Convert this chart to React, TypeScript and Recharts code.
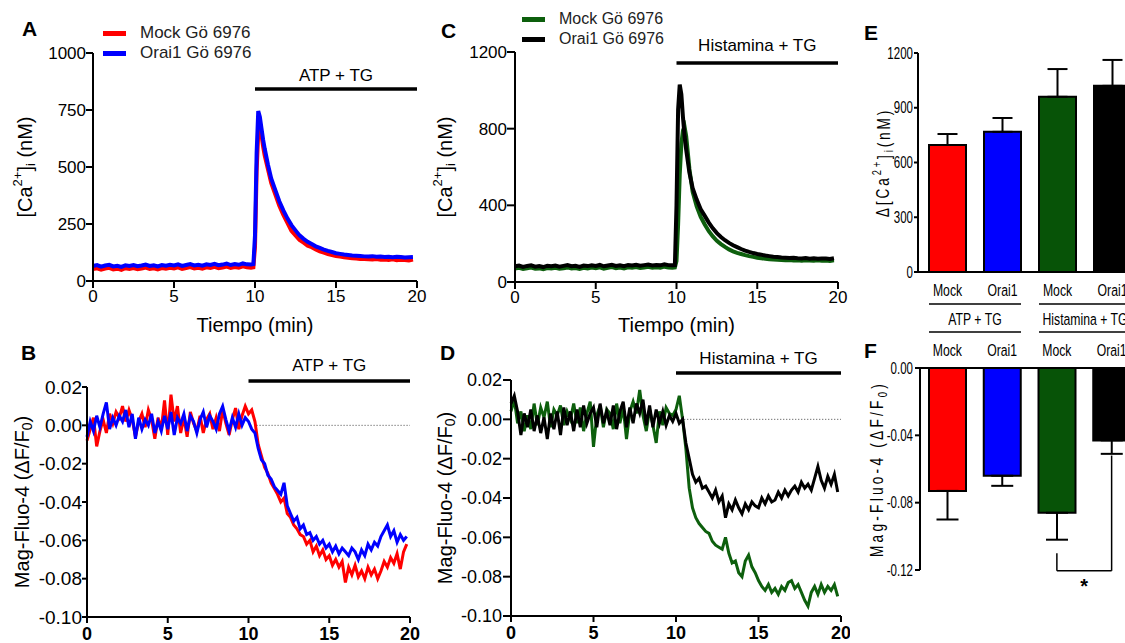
import React from "react";
import {
  LineChart,
  Line,
  XAxis,
  YAxis,
  ReferenceLine,
  Legend,
  BarChart,
  Bar,
  Cell,
  ErrorBar,
} from "recharts";

const SANS = "'Liberation Sans', Arial, sans-serif";

const RED = "#ff0000";
const BLUE = "#0000ff";
const GREEN = "#0d5f0d";
const GREEN_BAR = "#075307";
const BLACK = "#000000";

// [Ca2+]i traces (nM), Fura-2
const tCa = [
  0, 0.25, 0.5, 0.75, 1, 1.25, 1.5, 1.75, 2, 2.25, 2.5, 2.75, 3, 3.25, 3.5, 3.75, 4, 4.25, 4.5, 4.75,
  5, 5.25, 5.5, 5.75, 6, 6.25, 6.5, 6.75, 7, 7.25, 7.5, 7.75, 8, 8.25, 8.5, 8.75, 9, 9.25, 9.5, 9.75,
  9.9, 10, 10.1, 10.2, 10.3, 10.4, 10.5, 10.6, 10.8, 11,
  11.25, 11.5, 11.75, 12, 12.25, 12.5, 12.75, 13, 13.25, 13.5, 13.75, 14, 14.25, 14.5, 14.75, 15, 15.25, 15.5,
  15.75, 16, 16.25, 16.5, 16.75, 17, 17.25, 17.5, 17.75, 18, 18.25, 18.5, 18.75, 19, 19.25, 19.5, 19.75,
];
const caMockAtp = [
  52, 56, 50, 55, 58, 51, 54, 49, 56, 53, 57, 52, 55, 59, 53, 56, 51, 57, 54, 58,
  55, 60, 53, 57, 61, 55, 58, 54, 60, 57, 62, 56, 59, 63, 57, 61, 58, 64, 60, 58,
  60, 150, 480, 650, 680, 640, 590, 550, 490, 430,
  380, 330, 290, 255, 220, 200, 180, 168, 155, 148, 138, 130, 124, 118, 114, 110, 107, 104,
  102, 100, 99, 97, 96, 95, 94, 96, 93, 94, 92, 95, 91, 93, 92, 90, 94,
];
const caOraiAtp = [
  66, 70, 63, 68, 71, 64, 67, 62, 69, 66, 70, 65, 68, 72, 66, 69, 64, 70, 67, 71,
  68, 73, 66, 70, 74, 68, 71, 67, 73, 70, 75, 69, 72, 76, 70, 74, 71, 77, 73, 72,
  74, 200, 560, 745, 720, 670, 620, 580, 510, 450,
  400, 350, 310, 275, 245, 222, 200, 185, 172, 162, 152, 145, 138, 132, 127, 122, 119, 116,
  114, 112, 111, 110, 108, 107, 109, 106, 107, 105, 106, 104, 106, 105, 103, 104, 105,
];
const caMockHis = [
  70, 74, 68, 72, 75, 69, 71, 67, 73, 70, 74, 69, 72, 76, 70, 73, 68, 74, 71, 75,
  72, 77, 70, 74, 78, 72, 75, 71, 77, 74, 78, 73, 76, 79, 74, 77, 75, 80, 76, 75,
  76, 110, 300, 560, 720, 790, 810, 760, 590, 470,
  395, 340, 300, 265, 238, 215, 198, 183, 170, 160, 152, 146, 140, 135, 131, 127, 124, 121,
  119, 117, 116, 115, 114, 115, 112, 113, 111, 114, 112, 111, 113, 111, 112, 110, 113,
];
const caOraiHis = [
  82, 86, 79, 84, 87, 80, 83, 78, 85, 82, 86, 80, 84, 88, 82, 85, 79, 86, 83, 87,
  84, 89, 82, 86, 90, 84, 87, 83, 89, 86, 90, 85, 88, 91, 86, 89, 87, 92, 88, 87,
  88, 400, 900, 1030, 980, 860, 760, 690, 570, 490,
  430, 380, 345, 310, 280, 255, 235, 218, 204, 192, 182, 172, 164, 157, 151, 146, 142, 138,
  135, 132, 130, 128, 127, 125, 126, 124, 123, 125, 122, 124, 121, 123, 122, 120, 124,
];

// Mag-Fluo-4 traces (dF/F0)
const tMag = [
  0, 0.2, 0.4, 0.6, 0.8, 1, 1.2, 1.4, 1.6, 1.8, 2, 2.2, 2.4, 2.6, 2.8, 3, 3.2, 3.4, 3.6, 3.8,
  4, 4.2, 4.4, 4.6, 4.8, 5, 5.2, 5.4, 5.6, 5.8, 6, 6.2, 6.4, 6.6, 6.8, 7, 7.2, 7.4, 7.6, 7.8,
  8, 8.2, 8.4, 8.6, 8.8, 9, 9.2, 9.4, 9.6, 9.8, 10, 10.2, 10.4, 10.6, 10.8, 11, 11.2, 11.4, 11.6, 11.8,
  12, 12.2, 12.4, 12.6, 12.8, 13, 13.2, 13.4, 13.6, 13.8, 14, 14.2, 14.4, 14.6, 14.8, 15, 15.2, 15.4, 15.6, 15.8,
  16, 16.2, 16.4, 16.6, 16.8, 17, 17.2, 17.4, 17.6, 17.8, 18, 18.2, 18.4, 18.6, 18.8, 19, 19.2, 19.4, 19.6, 19.8,
];
const magMockAtp = [
  -0.008, -0.002, 0.004, -0.011, -0.003, 0.003, -0.004, 0.006, 0.001, 0.007,
  0.004, 0.01, 0.002, 0.008, 0.003, -0.006, 0.002, 0.006, -0.001, 0.008,
  0.003, -0.007, 0.004, -0.002, 0.013, -0.005, 0.016, 0.002, 0.01, -0.004,
  0.004, -0.006, 0.007, 0.001, -0.003, 0.005, -0.004, 0.003, 0.006, -0.002,
  0.004, -0.003, 0.008, 0.001, -0.005, 0.003, 0.009, -0.002, 0.005, 0.01,
  0.006, 0.008, 0.002, -0.01, -0.016, -0.022, -0.025, -0.03, -0.033, -0.036,
  -0.04, -0.038, -0.046, -0.048, -0.052, -0.054, -0.057, -0.058, -0.062, -0.06,
  -0.066, -0.063, -0.068, -0.065, -0.07, -0.068, -0.073, -0.07, -0.074, -0.071,
  -0.082, -0.074, -0.078, -0.073, -0.079, -0.076, -0.08, -0.074, -0.078, -0.075,
  -0.08, -0.076, -0.071, -0.074, -0.069, -0.072, -0.067, -0.075, -0.066, -0.062,
];
const magOraiAtp = [
  -0.006, 0.002, -0.003, 0.005, -0.001, 0.006, 0.012, -0.002, 0.004, 0.0,
  0.005, 0.002, 0.008, -0.001, 0.006, -0.007, 0.004, -0.002, 0.003, 0.0,
  0.006, -0.004, 0.002, -0.003, 0.005, -0.002, 0.007, -0.005, 0.004, 0.001,
  0.006, -0.003, 0.005, 0.002, -0.004, 0.003, 0.007, -0.001, 0.005, 0.002,
  -0.002, 0.006, 0.01, 0.003, -0.003, 0.004, -0.001, 0.006, 0.0, 0.004,
  0.002, -0.002, -0.004, -0.012, -0.018, -0.02, -0.026, -0.028, -0.032, -0.034,
  -0.036, -0.03, -0.042, -0.046, -0.05, -0.048, -0.054, -0.052, -0.057, -0.056,
  -0.06, -0.058, -0.062, -0.06, -0.064, -0.062, -0.066, -0.063, -0.067, -0.064,
  -0.066, -0.068, -0.064, -0.066, -0.07, -0.065, -0.068, -0.062, -0.065, -0.061,
  -0.063, -0.058, -0.055, -0.052, -0.058, -0.055, -0.061, -0.057, -0.06, -0.058,
];
const magMockHis = [
  0.004, 0.01, -0.002, 0.004, -0.006, 0.002, -0.005, 0.008, -0.003, 0.006,
  0.001, 0.009, -0.004, 0.005, 0.002, 0.007, -0.003, 0.004, 0.0, 0.008,
  -0.002, 0.006, -0.006, 0.003, 0.009, -0.014, 0.002, 0.007, -0.004, 0.005,
  0.003, -0.005, 0.008, -0.002, 0.006, -0.01, 0.004, 0.009, 0.003, 0.015,
  0.002, -0.006, 0.005, -0.003, -0.012, 0.004, -0.003, 0.006, 0.003, 0.002,
  0.005, 0.012, 0.0, -0.015, -0.035, -0.045, -0.05, -0.053, -0.055, -0.057,
  -0.058, -0.062, -0.064, -0.065, -0.066, -0.06, -0.068, -0.073, -0.072, -0.078,
  -0.08, -0.072, -0.069, -0.075, -0.078, -0.082, -0.085, -0.087, -0.084, -0.088,
  -0.086, -0.089, -0.085, -0.087, -0.083, -0.082, -0.086, -0.084, -0.088, -0.092,
  -0.095, -0.088, -0.085, -0.089, -0.084, -0.088, -0.085, -0.087, -0.084, -0.09,
];
const magOraiHis = [
  0.008, 0.012, 0.004, -0.008, 0.003, -0.004, 0.005, -0.006, 0.002, -0.007,
  0.001, -0.01, 0.003, -0.005, 0.004, -0.008, 0.006, -0.003, 0.004, -0.006,
  0.005, -0.004, 0.007, -0.002, 0.003, 0.006, -0.004, 0.008, -0.002, 0.004,
  -0.003, 0.007, -0.005, 0.004, 0.009, -0.004, 0.006, -0.002, 0.008, 0.003,
  0.01, -0.003, 0.007, -0.004, 0.005, -0.002, 0.004, -0.003, 0.002, -0.001,
  0.003, -0.002, 0.0, -0.012, -0.02, -0.028, -0.032, -0.03, -0.035, -0.034,
  -0.037, -0.04, -0.036, -0.042, -0.039, -0.05, -0.043, -0.046, -0.041, -0.045,
  -0.048, -0.043, -0.046, -0.042, -0.044, -0.045, -0.04, -0.043, -0.039, -0.042,
  -0.041, -0.037, -0.04, -0.036, -0.039, -0.036, -0.034, -0.037, -0.032, -0.035,
  -0.033, -0.036, -0.03, -0.024, -0.031, -0.035, -0.029, -0.033, -0.028, -0.037,
];

// summary bars
const barKeys = ["atpMock", "atpOrai", "hisMock", "hisOrai"];
const barNames = ["Mock", "Orai1", "Mock", "Orai1"];
const barGroups = ["ATP + TG", "ATP + TG", "Histamina + TG", "Histamina + TG"];
const barColors = [RED, BLUE, GREEN_BAR, BLACK];
const caPeak = [696, 768, 960, 1020];
const caPeakErr = [60, 76, 152, 142];
const magDrop = [-0.073, -0.064, -0.086, -0.043];
const magDropErr = [0.017, 0.006, 0.016, 0.008];

const caTicksAtp = [0, 250, 500, 750, 1000];
const caTicksHis = [0, 400, 800, 1200];
const magTicks = [-0.1, -0.08, -0.06, -0.04, -0.02, 0, 0.02];
const timeTicks = [0, 5, 10, 15, 20];
const peakTicks = [0, 300, 600, 900, 1200];
const dropTicks = [-0.12, -0.08, -0.04, 0];

const atpData = tCa.map((t, i) => ({ t, mock: caMockAtp[i], orai: caOraiAtp[i] }));
const hisData = tCa.map((t, i) => ({ t, mock: caMockHis[i], orai: caOraiHis[i] }));
const magAtpData = tMag.map((t, i) => ({ t, mock: magMockAtp[i], orai: magOraiAtp[i] }));
const magHisData = tMag.map((t, i) => ({ t, mock: magMockHis[i], orai: magOraiHis[i] }));
const peakData = barKeys.map((k, i) => ({ key: k, v: caPeak[i], err: [0, caPeakErr[i]] }));
const dropData = barKeys.map((k, i) => ({ key: k, v: magDrop[i], err: [magDropErr[i], 0] }));

const axisStroke = { stroke: "#000", strokeWidth: 2 };
const NARROW_X = 0.72;

// rotated axis title, optionally squeezed along the reading direction
function Title({ viewBox, cx, size, sx = 1, spacing = 0, children }: any) {
  const vb = viewBox || { x: 0, y: 0, width: 0, height: 0 };
  const x = (vb.x || 0) + cx;
  const y = (vb.y || 0) + (vb.height || 0) / 2;
  return (
    <text
      x={0}
      y={0}
      transform={`translate(${x} ${y}) rotate(-90) scale(${sx} 1)`}
      textAnchor="middle"
      dominantBaseline="central"
      fontSize={size}
      fontFamily={SANS}
      letterSpacing={spacing}
      fill="#000"
    >
      {children}
    </text>
  );
}

// condensed text for the bar panels
function Narrow({ x, y, anchor = "middle", size = 17, children }: any) {
  return (
    <text
      x={0}
      y={0}
      transform={`translate(${x} ${y}) scale(${NARROW_X} 1)`}
      textAnchor={anchor}
      dominantBaseline="central"
      fontSize={size}
      fontFamily={SANS}
      fill="#000"
    >
      {children}
    </text>
  );
}

const caTitle = (p: any) => (
  <Title {...p} cx={25} size={20}>
    [Ca<tspan dy={-8} fontSize={13}>2+</tspan>
    <tspan dy={8}>]</tspan>
    <tspan dy={5} fontSize={13}>i</tspan>
    <tspan dy={-5}> (nM)</tspan>
  </Title>
);

const magTitle = (cx: number, size: number, sx = 1, spacing = 0) => (p: any) => (
  <Title {...p} cx={cx} size={size} sx={sx} spacing={spacing}>
    Mag-Fluo-4 (ΔF/F<tspan dy={5} fontSize={size * 0.7}>0</tspan>
    <tspan dy={-5}>)</tspan>
  </Title>
);

function TraceLegend({ items, size }: { items: { name: string; color: string }[]; size: number }) {
  return (
    <div style={{ fontFamily: SANS, fontSize: size, color: "#222", lineHeight: "20px" }}>
      {items.map((it) => (
        <div key={it.name} style={{ display: "flex", alignItems: "center", height: 20 }}>
          <span style={{ display: "inline-block", width: 23, height: 5, background: it.color, marginRight: 14 }} />
          {it.name}
        </div>
      ))}
    </div>
  );
}

const stim = (y: number, text: string, offset: number) => (
  <ReferenceLine
    segment={[{ x: 10, y }, { x: 20, y }]}
    stroke="#000"
    strokeWidth={3.5}
    ifOverflow="visible"
    label={{ value: text, position: "top", offset, fontSize: 17, fill: "#000", fontFamily: SANS }}
  />
);

const zeroLine = (
  <ReferenceLine
    segment={[{ x: 10.5, y: 0 }, { x: 20, y: 0 }]}
    stroke="#444"
    strokeWidth={1}
    strokeDasharray="1 2"
  />
);

const E_BAND = 55;
const BAR_W = 37;

function PeakTick({ x, y, index }: any) {
  return (
    <g>
      <Narrow x={x} y={y + 18}>
        {barNames[index]}
      </Narrow>
      {index % 2 === 1 && (
        <g>
          <line x1={x - E_BAND - BAR_W / 2} x2={x + BAR_W / 2} y1={y + 32} y2={y + 32} stroke="#000" strokeWidth={1.5} />
          <Narrow x={x - E_BAND / 2} y={y + 47}>
            {barGroups[index]}
          </Narrow>
          <line x1={x - E_BAND - BAR_W / 2} x2={x + BAR_W / 2} y1={y + 60} y2={y + 60} stroke="#000" strokeWidth={1.5} />
        </g>
      )}
    </g>
  );
}

function DropTick({ x, y, index }: any) {
  return (
    <Narrow x={x} y={y - 18}>
      {barNames[index]}
    </Narrow>
  );
}

const letterStyle: React.CSSProperties = {
  position: "absolute",
  fontFamily: SANS,
  fontWeight: 700,
  fontSize: 21,
  lineHeight: "21px",
};

export default function App() {
  const bracketTop = magDrop[3] - magDropErr[3] - 0.001;
  const bracketBottom = -0.1205;
  const bracketStart = magDrop[2] - magDropErr[2] - 0.008;
  return (
    <div
      style={{
        position: "fixed",
        left: 0,
        top: 0,
        width: 1125,
        height: 643,
        overflow: "hidden",
        background: "#fff",
      }}
    >
      <div style={{ ...letterStyle, left: 22, top: 18 }}>A</div>
      <div style={{ ...letterStyle, left: 21, top: 342 }}>B</div>
      <div style={{ ...letterStyle, left: 441, top: 20 }}>C</div>
      <div style={{ ...letterStyle, left: 440, top: 342 }}>D</div>
      <div style={{ ...letterStyle, left: 864, top: 22 }}>E</div>
      <div style={{ ...letterStyle, left: 864, top: 340 }}>F</div>

      {/* A */}
      <div style={{ position: "absolute", left: 0, top: 0 }}>
        <LineChart width={430} height={340} data={atpData} margin={{ top: 53, right: 13, left: 0, bottom: 0 }}>
          <XAxis
            dataKey="t"
            type="number"
            domain={[0, 20]}
            ticks={timeTicks}
            axisLine={axisStroke}
            tickLine={axisStroke}
            tickSize={7}
            tickMargin={2}
            height={59}
            tick={{ fontSize: 17, fill: "#000", fontFamily: SANS }}
            label={{ value: "Tiempo (min)", position: "insideBottom", offset: 8, fontSize: 20, fill: "#000", fontFamily: SANS }}
          />
          <YAxis
            type="number"
            domain={[0, 1000]}
            ticks={caTicksAtp}
            axisLine={axisStroke}
            tickLine={axisStroke}
            tickSize={7}
            tickMargin={0}
            width={93}
            tick={{ fontSize: 17, fill: "#000", fontFamily: SANS }}
            label={caTitle}
          />
          {stim(842, "ATP + TG", 8)}
          <Line dataKey="mock" stroke={RED} strokeWidth={4} dot={false} isAnimationActive={false} />
          <Line dataKey="orai" stroke={BLUE} strokeWidth={4} dot={false} isAnimationActive={false} />
          <Legend
            layout="horizontal"
            verticalAlign="middle"
            align="center"
            wrapperStyle={{ top: 23, left: 103, width: 220 }}
            content={() => (
              <TraceLegend size={17} items={[{ name: "Mock Gö 6976", color: RED }, { name: "Orai1 Gö 6976", color: BLUE }]} />
            )}
          />
        </LineChart>
      </div>

      {/* C */}
      <div style={{ position: "absolute", left: 420, top: 0 }}>
        <LineChart width={430} height={340} data={hisData} margin={{ top: 52, right: 12, left: 0, bottom: 0 }}>
          <XAxis
            dataKey="t"
            type="number"
            domain={[0, 20]}
            ticks={timeTicks}
            axisLine={axisStroke}
            tickLine={axisStroke}
            tickSize={7}
            tickMargin={2}
            height={58}
            tick={{ fontSize: 17, fill: "#000", fontFamily: SANS }}
            label={{ value: "Tiempo (min)", position: "insideBottom", offset: 8, fontSize: 20, fill: "#000", fontFamily: SANS }}
          />
          <YAxis
            type="number"
            domain={[0, 1200]}
            ticks={caTicksHis}
            axisLine={axisStroke}
            tickLine={axisStroke}
            tickSize={8}
            tickMargin={0}
            width={95}
            tick={{ fontSize: 17, fill: "#000", fontFamily: SANS }}
            label={caTitle}
          />
          {stim(1143, "Histamina + TG", 12)}
          <Line dataKey="mock" stroke={GREEN} strokeWidth={4} dot={false} isAnimationActive={false} />
          <Line dataKey="orai" stroke={BLACK} strokeWidth={4} dot={false} isAnimationActive={false} />
          <Legend
            layout="horizontal"
            verticalAlign="middle"
            align="center"
            wrapperStyle={{ top: 9, left: 102, width: 220 }}
            content={() => (
              <TraceLegend size={16} items={[{ name: "Mock Gö 6976", color: GREEN }, { name: "Orai1 Gö 6976", color: BLACK }]} />
            )}
          />
        </LineChart>
      </div>

      {/* B */}
      <div style={{ position: "absolute", left: 0, top: 330 }}>
        <LineChart width={430} height={330} data={magAtpData} margin={{ top: 57, right: 20, left: 0, bottom: 0 }}>
          <XAxis
            dataKey="t"
            type="number"
            domain={[0, 20]}
            ticks={timeTicks}
            axisLine={axisStroke}
            tickLine={axisStroke}
            tickSize={6}
            tickMargin={4}
            height={43}
            tick={{ fontSize: 18, fontWeight: 700, fill: "#000", fontFamily: SANS }}
          />
          <YAxis
            type="number"
            domain={[-0.1, 0.02]}
            ticks={magTicks}
            tickFormatter={(v: number) => v.toFixed(2)}
            axisLine={axisStroke}
            tickLine={axisStroke}
            tickSize={5}
            tickMargin={0}
            width={87}
            tick={{ fontSize: 19, fill: "#000", fontFamily: SANS }}
            label={magTitle(22, 20)}
          />
          {zeroLine}
          {stim(0.0231, "ATP + TG", 10)}
          <Line dataKey="mock" stroke={RED} strokeWidth={3} dot={false} isAnimationActive={false} />
          <Line dataKey="orai" stroke={BLUE} strokeWidth={3} dot={false} isAnimationActive={false} />
        </LineChart>
      </div>

      {/* D */}
      <div style={{ position: "absolute", left: 420, top: 330 }}>
        <LineChart width={430} height={330} data={magHisData} margin={{ top: 50, right: 9, left: 0, bottom: 0 }}>
          <XAxis
            dataKey="t"
            type="number"
            domain={[0, 20]}
            ticks={timeTicks}
            axisLine={axisStroke}
            tickLine={axisStroke}
            tickSize={6}
            tickMargin={4}
            height={44}
            tick={{ fontSize: 18, fontWeight: 700, fill: "#000", fontFamily: SANS }}
          />
          <YAxis
            type="number"
            domain={[-0.1, 0.02]}
            ticks={magTicks}
            tickFormatter={(v: number) => v.toFixed(2)}
            axisLine={axisStroke}
            tickLine={axisStroke}
            tickSize={8}
            tickMargin={1}
            width={91}
            tick={{ fontSize: 18, fill: "#000", fontFamily: SANS }}
            label={magTitle(25, 20)}
          />
          {zeroLine}
          {stim(0.0236, "Histamina + TG", 9)}
          <Line dataKey="mock" stroke={GREEN} strokeWidth={3} dot={false} isAnimationActive={false} />
          <Line dataKey="orai" stroke={BLACK} strokeWidth={3} dot={false} isAnimationActive={false} />
        </LineChart>
      </div>

      {/* E */}
      <div style={{ position: "absolute", left: 850, top: 0 }}>
        <BarChart width={300} height={340} data={peakData} margin={{ top: 53, right: 10, left: 0, bottom: 0 }}>
          <XAxis
            dataKey="key"
            type="category"
            interval={0}
            padding={{ left: 2, right: 0 }}
            axisLine={axisStroke}
            tickLine={false}
            tickSize={0}
            tickMargin={0}
            height={68}
            tick={(p: any) => <PeakTick {...p} />}
          />
          <YAxis
            type="number"
            domain={[0, 1200]}
            ticks={peakTicks}
            axisLine={axisStroke}
            tickLine={axisStroke}
            tickSize={4}
            tickMargin={1}
            width={68}
            tick={(p: any) => (
              <Narrow x={p.x} y={p.y} anchor="end" size={16}>
                {p.payload.value}
              </Narrow>
            )}
            label={(p: any) => (
              <Title {...p} cx={33} size={19} sx={NARROW_X} spacing={4}>
                Δ[Ca<tspan dy={-7} fontSize={13}>2+</tspan>
                <tspan dy={7}>]</tspan>
                <tspan dy={5} fontSize={13}>i</tspan>
                <tspan dy={-5}>(nM)</tspan>
              </Title>
            )}
          />
          <Bar dataKey="v" barSize={BAR_W} stroke="#000" strokeWidth={2} isAnimationActive={false}>
            {peakData.map((d, i) => (
              <Cell key={d.key} fill={barColors[i]} />
            ))}
            <ErrorBar dataKey="err" width={10} stroke="#000" strokeWidth={2} />
          </Bar>
        </BarChart>
      </div>

      {/* F */}
      <div style={{ position: "absolute", left: 850, top: 330 }}>
        <BarChart width={300} height={313} data={dropData} margin={{ top: 0, right: 11, left: 0, bottom: 73 }}>
          <XAxis
            dataKey="key"
            type="category"
            orientation="top"
            interval={0}
            axisLine={axisStroke}
            tickLine={false}
            tickSize={0}
            tickMargin={0}
            height={38}
            tick={(p: any) => <DropTick {...p} />}
          />
          <YAxis
            type="number"
            domain={[-0.12, 0]}
            ticks={dropTicks}
            axisLine={axisStroke}
            tickLine={axisStroke}
            tickSize={5}
            tickMargin={2}
            width={70}
            tick={(p: any) => (
              <Narrow x={p.x} y={p.y} anchor="end" size={16}>
                {Number(p.payload.value).toFixed(2)}
              </Narrow>
            )}
            label={magTitle(27, 19, 0.72, 4.5)}
          />
          <Bar dataKey="v" barSize={BAR_W} stroke="#000" strokeWidth={2} isAnimationActive={false}>
            {dropData.map((d, i) => (
              <Cell key={d.key} fill={barColors[i]} />
            ))}
            <ErrorBar dataKey="err" width={11} stroke="#000" strokeWidth={2} />
          </Bar>
          <ReferenceLine
            segment={[{ x: "hisMock", y: bracketStart }, { x: "hisMock", y: bracketBottom }]}
            stroke="#000"
            strokeWidth={1.5}
            ifOverflow="visible"
          />
          <ReferenceLine
            segment={[{ x: "hisMock", y: bracketBottom }, { x: "hisOrai", y: bracketBottom }]}
            stroke="#000"
            strokeWidth={1.5}
            ifOverflow="visible"
            label={{ value: "*", position: "bottom", offset: 8, fontSize: 20, fontWeight: 700, fill: "#000", fontFamily: SANS }}
          />
          <ReferenceLine
            segment={[{ x: "hisOrai", y: bracketBottom }, { x: "hisOrai", y: bracketTop }]}
            stroke="#000"
            strokeWidth={1.5}
            ifOverflow="visible"
          />
        </BarChart>
      </div>
    </div>
  );
}
